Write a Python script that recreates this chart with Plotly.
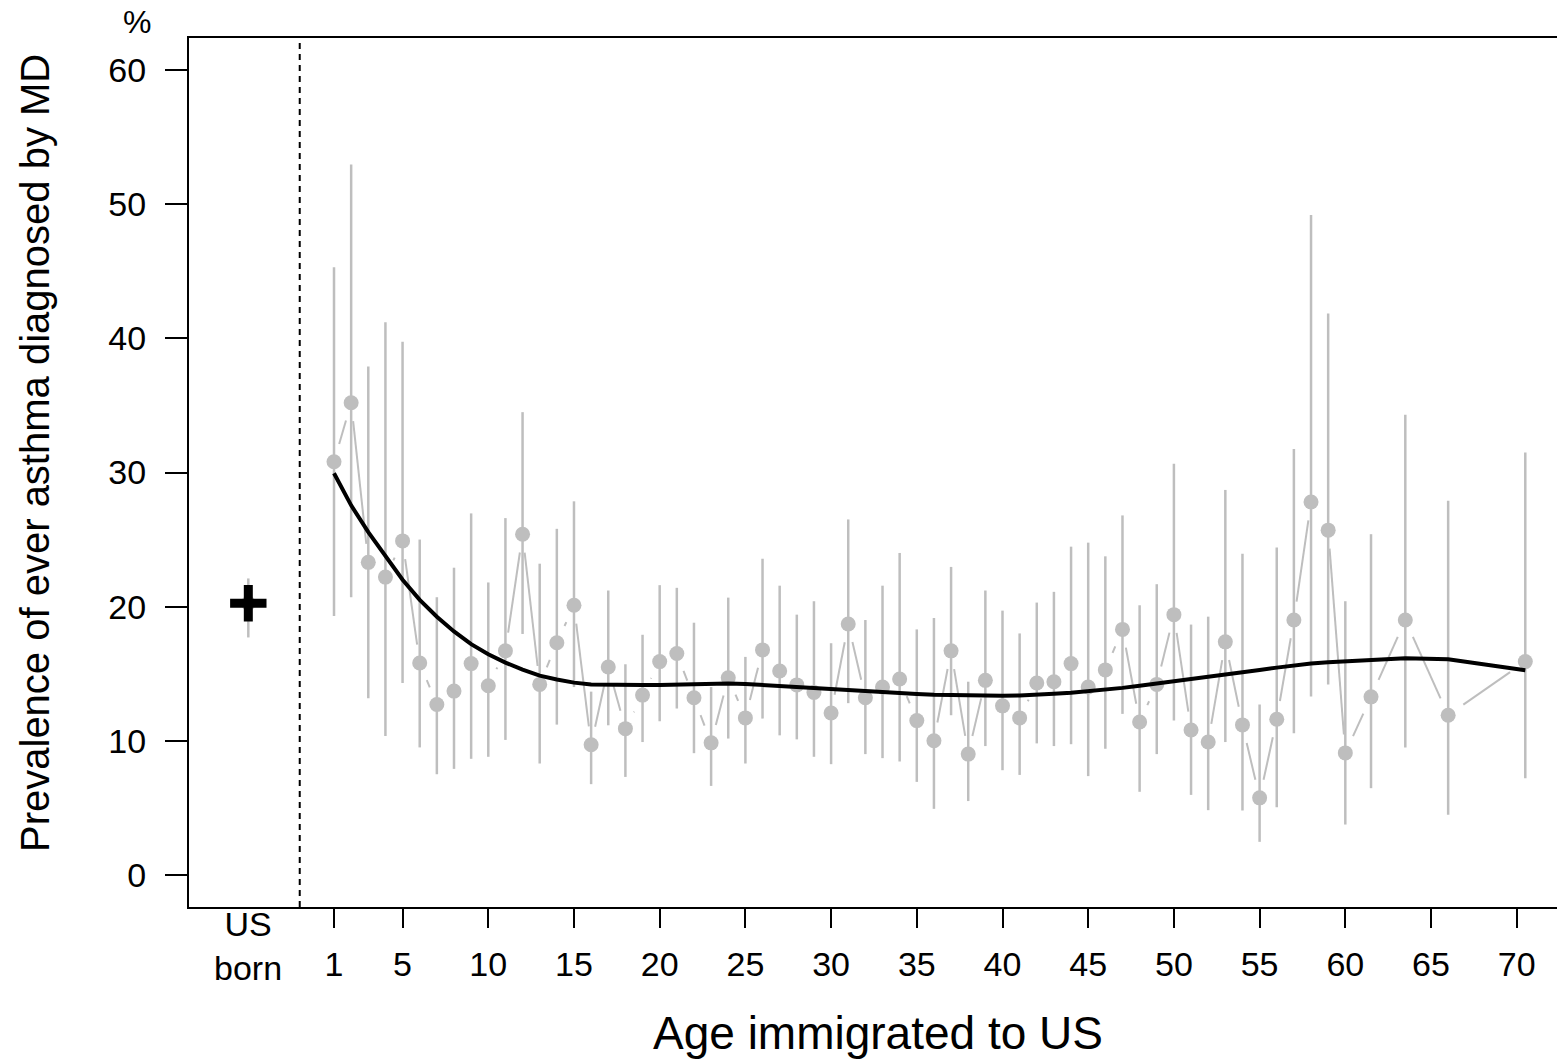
import math
import plotly.graph_objects as go

# ---------------- data ----------------
age = list(range(1, 61)) + [61.5, 63.5, 66, 70.5]
prev = [30.8, 35.2, 23.3, 22.2, 24.9, 15.8, 12.7, 13.7, 15.75, 14.1,
        16.7, 25.4, 14.2, 17.3, 20.1, 9.7, 15.5, 10.9, 13.4, 15.9,
        16.5, 13.2, 9.84, 14.7, 11.7, 16.77, 15.2, 14.16, 13.6, 12.07,
        18.7, 13.2, 14.0, 14.6, 11.5, 10.0, 16.7, 9.0, 14.5, 12.6,
        11.7, 14.3, 14.4, 15.75, 14.0, 15.28, 18.3, 11.4, 14.2, 19.4,
        10.8, 9.9, 17.37, 11.18, 5.74, 11.6, 19.0, 27.8, 25.7, 9.09,
        13.27, 19.0, 11.9, 15.9]
ci_low = [19.3, 20.7, 13.17, 10.36, 14.3, 9.5, 7.5, 7.9, 8.65, 8.8,
          10.06, 17.96, 8.3, 11.2, 14.0, 6.76, 11.15, 7.3, 9.9, 11.45,
          12.4, 9.07, 6.63, 10.16, 8.3, 11.65, 10.4, 10.1, 8.8, 8.25,
          12.8, 9.0, 8.7, 8.45, 6.93, 4.92, 11.9, 5.5, 9.6, 7.8,
          7.45, 9.8, 9.6, 9.74, 7.36, 9.4, 12.0, 6.19, 9.0, 11.5,
          5.96, 4.82, 9.9, 4.8, 2.46, 5.04, 10.56, 13.3, 14.2, 3.75,
          6.46, 9.5, 4.47, 7.2]
ci_high = [45.3, 52.96, 37.9, 41.2, 39.75, 25.0, 20.7, 22.9, 26.95, 21.8,
           26.6, 34.5, 23.2, 25.8, 27.85, 13.66, 21.2, 15.7, 17.9, 21.6,
           21.4, 18.8, 14.0, 20.67, 16.25, 23.57, 21.56, 19.4, 20.4, 17.27,
           26.5, 19.0, 21.56, 24.0, 18.3, 19.15, 22.96, 14.4, 21.2, 19.7,
           18.0, 20.3, 21.1, 24.47, 24.77, 23.75, 26.8, 20.1, 21.67, 30.66,
           18.66, 19.25, 28.7, 23.95, 12.7, 24.4, 31.75, 49.2, 41.86, 20.4,
           25.4, 34.3, 27.9, 31.5]
smooth = [29.94, 27.55, 25.55, 23.75, 22.0, 20.5, 19.25, 18.15, 17.2, 16.45,
          15.82, 15.3, 14.85, 14.57, 14.33, 14.2, 14.16, 14.15, 14.15, 14.16,
          14.2, 14.25, 14.28, 14.27, 14.23, 14.15, 14.08, 14.0, 13.9, 13.82,
          13.74, 13.67, 13.6, 13.54, 13.48, 13.42, 13.39, 13.37, 13.36, 13.36,
          13.38, 13.42, 13.5, 13.58, 13.68, 13.8, 13.94, 14.09, 14.25, 14.42,
          14.6, 14.76, 14.92, 15.1, 15.27, 15.45, 15.62, 15.75, 15.85, 15.93,
          16.05, 16.15, 16.07, 15.25]

us_born_x = [-4]
us_born_prev = [20.25]
us_born_low = [17.7]
us_born_high = [22.1]

divider_x = -1
x_ticks = [1, 5, 10, 15, 20, 25, 30, 35, 40, 45, 50, 55, 60, 65, 70]
y_ticks = [0, 10, 20, 30, 40, 50, 60]

# ---------------- layout constants ----------------
W, H = 1557, 1060
ML, MR, MT, MB = 189, 0, 38, 153
XR = [-7.46, 72.35]
YR = [-2.4, 62.4]
GREY = "#BEBEBE"
FONT = "Liberation Sans, Arial, Helvetica, sans-serif"

plot_w = W - ML - MR
plot_h = H - MT - MB
xpx = plot_w / (XR[1] - XR[0])
ypx = plot_h / (YR[1] - YR[0])

# connecting segments with gaps around points (R type="b")
gap = 18.5
seg_x, seg_y = [], []
for i in range(len(age) - 1):
    dxv = age[i + 1] - age[i]
    dyv = prev[i + 1] - prev[i]
    L = math.hypot(dxv * xpx, dyv * ypx)
    if L > 2 * gap:
        t0 = gap / L
        t1 = 1 - t0
        seg_x += [age[i] + t0 * dxv, age[i] + t1 * dxv, None]
        seg_y += [prev[i] + t0 * dyv, prev[i] + t1 * dyv, None]

fig = go.Figure()

# CI lines
fig.add_trace(go.Scatter(
    x=age, y=prev, mode="markers",
    marker=dict(size=0.1, color="rgba(0,0,0,0)"),
    error_y=dict(type="data", symmetric=False,
                 array=[h - p for h, p in zip(ci_high, prev)],
                 arrayminus=[p - l for p, l in zip(prev, ci_low)],
                 width=0, thickness=2.5, color=GREY),
    hoverinfo="skip", showlegend=False))

fig.add_trace(go.Scatter(
    x=us_born_x, y=us_born_prev, mode="markers",
    marker=dict(size=0.1, color="rgba(0,0,0,0)"),
    error_y=dict(type="data", symmetric=False,
                 array=[h - p for h, p in zip(us_born_high, us_born_prev)],
                 arrayminus=[p - l for p, l in zip(us_born_prev, us_born_low)],
                 width=0, thickness=2.5, color=GREY),
    hoverinfo="skip", showlegend=False))

# connecting segments
fig.add_trace(go.Scatter(
    x=seg_x, y=seg_y, mode="lines",
    line=dict(color=GREY, width=2),
    hoverinfo="skip", showlegend=False))

# points
fig.add_trace(go.Scatter(
    x=age, y=prev, mode="markers",
    marker=dict(size=15, color=GREY, line=dict(width=0)),
    showlegend=False))

fig.add_trace(go.Scatter(
    x=us_born_x, y=us_born_prev, mode="markers",
    marker=dict(size=15, color=GREY, line=dict(width=0)),
    showlegend=False))

# US born cross
fig.add_trace(go.Scatter(
    x=us_born_x, y=us_born_prev, mode="markers",
    marker=dict(symbol="cross-thin", size=26, color="black",
                line=dict(width=9, color="black")),
    showlegend=False))

# smooth curve
fig.add_trace(go.Scatter(
    x=age, y=smooth, mode="lines",
    line=dict(color="black", width=4),
    showlegend=False))

fig.add_shape(type="line", xref="x", yref="paper",
              x0=divider_x, x1=divider_x, y0=0, y1=1,
              line=dict(color="black", width=2, dash="6px,5px"))

annotations = [
    dict(text="%", xref="paper", yref="paper",
         x=(137 - ML) / plot_w, y=1 + (MT - 22) / plot_h,
         xanchor="center", yanchor="middle", showarrow=False,
         font=dict(size=32, color="black", family=FONT)),
    dict(text="US<br>born", xref="x", yref="paper",
         x=us_born_x[0], y=-(946 - (H - MB)) / plot_h,
         xanchor="center", yanchor="middle", showarrow=False,
         font=dict(size=34, color="black", family=FONT)),
    dict(text="Age immigrated to US", xref="paper", yref="paper",
         x=(877.5 - ML) / plot_w, y=-(1033 - (H - MB)) / plot_h,
         xanchor="center", yanchor="middle", showarrow=False,
         font=dict(size=46, color="black", family=FONT)),
    dict(text="Prevalence of ever asthma diagnosed by MD", xref="paper", yref="paper",
         x=(35 - ML) / plot_w, y=1 - (453 - MT) / plot_h, textangle=-90,
         xanchor="center", yanchor="middle", showarrow=False,
         font=dict(size=40, color="black", family=FONT)),
]

fig.update_layout(
    width=W, height=H,
    margin=dict(l=ML, r=MR, t=MT, b=MB, pad=0),
    paper_bgcolor="white", plot_bgcolor="white",
    font=dict(family=FONT, color="black", size=34),
    annotations=annotations,
    showlegend=False,
)
fig.update_xaxes(range=XR, tickmode="array", tickvals=x_ticks,
                 ticktext=[str(t) for t in x_ticks],
                 ticks="outside", ticklen=19, tickwidth=2, tickcolor="black",
                 ticklabelstandoff=7,
                 showline=True, linewidth=2, linecolor="black", mirror=True,
                 showgrid=False, zeroline=False,
                 tickfont=dict(size=34, color="black", family=FONT))
fig.update_yaxes(range=YR, tickmode="array", tickvals=y_ticks,
                 ticks="outside", ticklen=22, tickwidth=2, tickcolor="black",
                 ticklabelstandoff=12,
                 showline=True, linewidth=2, linecolor="black", mirror=False,
                 showgrid=False, zeroline=False,
                 tickfont=dict(size=34, color="black", family=FONT))

fig.write_html("out.html")
